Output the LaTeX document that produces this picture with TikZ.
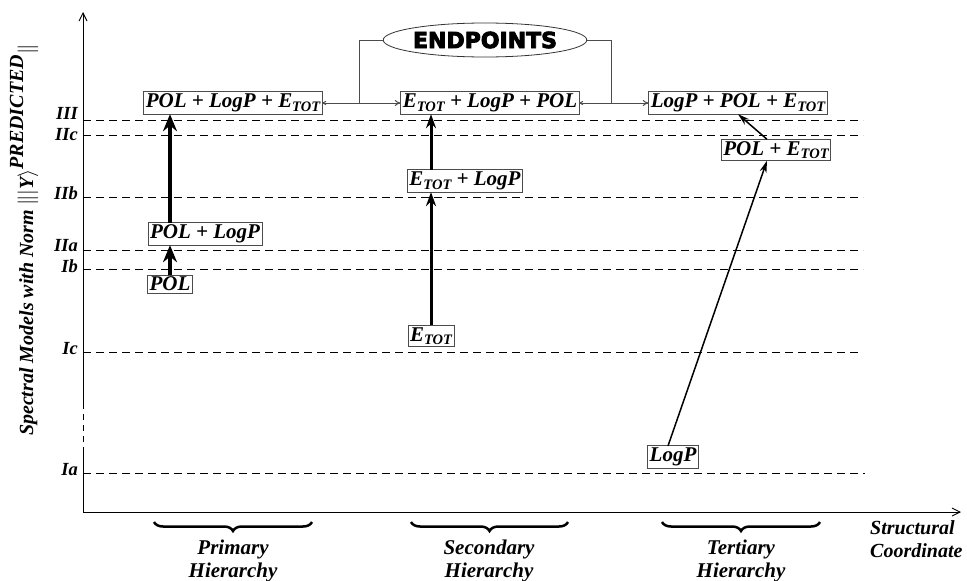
\documentclass[tikz,border=0pt]{standalone}
\usepackage{fontspec}
\setmainfont{Liberation Serif}
\newfontfamily\heavysans{DejaVu Sans}
\usetikzlibrary{arrows.meta,shapes.geometric,decorations.pathreplacing}
\newcommand\Etot{E\raisebox{-0.35ex}{\fontsize{14.5}{14.5}\selectfont TOT}}
\newcommand\heavytext[1]{\special{pdf:literal direct 2 Tr 0.9 w}#1\special{pdf:literal direct 0 Tr}}
\tikzset{
  x=1pt, y=-1pt,
  every node/.style={font=\fontsize{21}{23}\selectfont\bfseries\itshape},
  model/.style={draw=black!70, line width=0.8pt, fill=white, inner sep=2pt, outer sep=0pt},
  level/.style={dashed, dash pattern=on 8pt off 5pt, line width=0.8pt},
  levlab/.style={anchor=mid east, inner sep=0pt, text height=0.6em, text depth=0pt, xshift=-5pt,
                 font=\fontsize{18.5}{20}\selectfont\bfseries\itshape},
  fatarrow/.style={line width=4pt, -{Stealth[length=17pt,width=14pt]}},
  midarrow/.style={line width=3pt, -{Stealth[length=14pt,width=10pt]}},
  thinarrow/.style={line width=1.5pt, -{Stealth[length=12pt,width=7pt]}},
  link/.style={draw=black!70, line width=1pt},
  hbrace/.style={decorate, decoration={brace, mirror, amplitude=9pt}, line width=2.5pt},
  hier/.style={align=center, inner sep=0pt, font=\fontsize{21}{23}\selectfont\bfseries\itshape},
}
\begin{document}
\begin{tikzpicture}
\useasboundingbox (0,0) rectangle (967,581);
% axes
\coordinate (origin) at (83,512);
\coordinate (ytop) at (83,12);
\coordinate (brkA) at (83,453);
\coordinate (brkB) at (83,407);
\coordinate (xend) at (961,512);
\draw[line width=0.9pt] (origin) -- (brkA);
\draw[line width=0.9pt, dashed, dash pattern=on 6pt off 5pt] (brkA) -- (brkB);
\draw[line width=0.9pt, -{Straight Barb[length=8pt,width=8pt]}] (brkB) -- (ytop);
\draw[line width=0.9pt, -{Straight Barb[length=8pt,width=8pt]}] (origin) -- (xend);

% levels
\foreach \nm/\yy/\xe/\ly in {III/120/863/117.5, IIc/135/863/138, IIb/197/863/197, IIa/250/863/249, Ib/269/863/270, Ic/352/861/352, Ia/473/865/473}{
  \coordinate (L\nm) at (83,\yy);
  \coordinate (R\nm) at (\xe,\yy);
  \draw[level] (L\nm) -- (R\nm);
  \node[levlab] (lab\nm) at (83,\ly) {\nm};
}

% model boxes
\node[model] (b1) at (233,103) {POL + LogP + \Etot};
\node[model] (b2) at (490,103) {\Etot{} + LogP + POL};
\node[model] (b3) at (738,103) {LogP + POL + \Etot};
\node[model] (pe) at (776,150) {POL + \Etot};
\node[model] (el) at (465,181) {\Etot{} + LogP};
\node[model] (pl) at (205,234) {POL + LogP};
\node[model] (pol) at (170,284) {POL};
\node[model] (et) at (431,336) {\Etot};
\node[model] (lp) at (673,457) {LogP};

% endpoints
\node[draw=black!80, line width=0.8pt, ellipse, minimum width=172pt, minimum height=34pt, inner sep=0pt,
      font=\fontsize{22}{22}\selectfont\heavysans\bfseries] (en) at (485,40) {\heavytext{ENDPOINTS}};
\coordinate (j1) at (359,103);
\coordinate (j2) at (611,103);
\draw[link, {To[length=4pt,width=4pt]}-{To[length=6pt,width=6pt]}] (b1.east) -- (b2.west);
\draw[link, {To[length=4pt,width=4pt]}-{To[length=6pt,width=6pt]}] (b2.east) -- (b3.west);
\draw[link] (en.west) -| (j1);
\draw[link] (en.east) -| (j2);

% hierarchy arrows
\draw[fatarrow] (pol.north) -- (pol.north |- pl.south);
\draw[fatarrow] (pl.north -| pol.north) -- (pol.north |- b1.south);
\draw[midarrow] (et.north) -- (et.north |- el.south);
\draw[midarrow] (el.north -| et.north) -- (et.north |- b2.south);
\draw[thinarrow] ([xshift=-5pt]lp.north) -- ([xshift=-9pt]pe.south);
\draw[thinarrow] ([xshift=-9pt]pe.north) -- (b3.south);

% braces and labels
\coordinate (p1) at (154,522); \coordinate (p2) at (312,522);
\coordinate (s1) at (411,522); \coordinate (s2) at (568,522);
\coordinate (t1) at (662,522); \coordinate (t2) at (820,522);
\draw[hbrace] (p1) -- (p2);
\draw[hbrace] (s1) -- (s2);
\draw[hbrace] (t1) -- (t2);
\node[hier] (hp) at (233,561) {Primary\\Hierarchy};
\node[hier] (hs) at (489,561) {Secondary\\Hierarchy};
\node[hier] (ht) at (741,561) {Tertiary\\Hierarchy};
\node[hier, align=left, anchor=west, font=\fontsize{20}{23}\selectfont\bfseries\itshape] (sc) at (870,539) {Structural\\Coordinate};

% y-axis label
\node[rotate=90, inner sep=0pt, font=\fontsize{20}{22}\selectfont\bfseries\itshape] (ylab) at (24,240)
  {Spectral Models with Norm\hspace{0.2em}$\Big\|\Big|\textbf{\textit{Y}}\Big\rangle^{\textbf{\textit{PREDICTED}}}\Big\|$};
\end{tikzpicture}
\end{document}
